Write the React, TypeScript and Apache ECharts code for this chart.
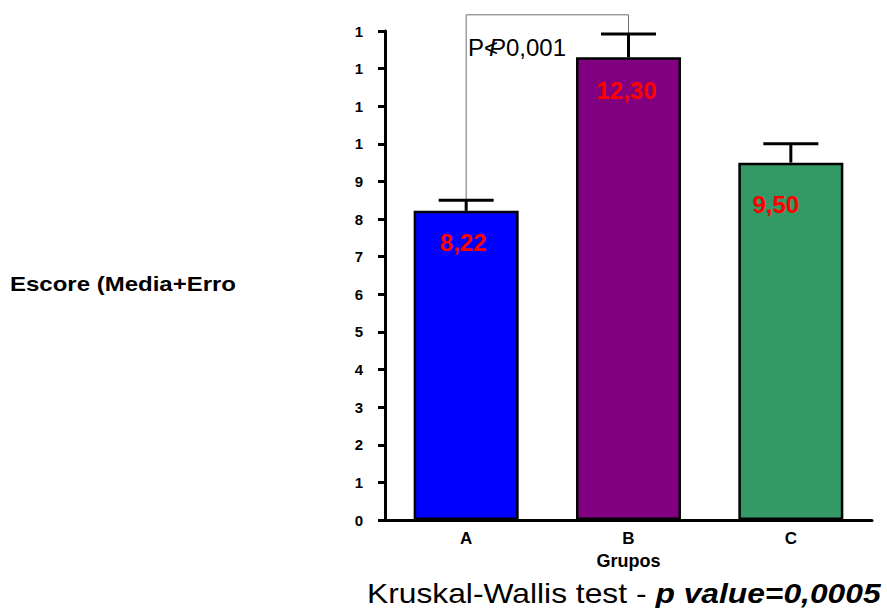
import React, { useEffect, useRef } from "react";
import * as echarts from "echarts";

const categories = ["A", "B", "C"];
const means = [8.22, 12.3, 9.5];
const errUpper = [8.5, 12.92, 10.0];
const meanLabels = ["8,22", "12,30", "9,50"];
const yTickLabels = ["0", "1", "2", "3", "4", "5", "6", "7", "8", "9", "1", "1", "1", "1"];
const barColors = ["#0000FF", "#800080", "#339966"];
const bracketFrom = 0;
const bracketTo = 1;
const bracketTop = 13.43;

const FONT = "'Liberation Sans', Arial, sans-serif";

export default function App() {
  const ref = useRef<HTMLDivElement>(null);
  useEffect(() => {
    if (!ref.current) return;
    const chart = echarts.init(ref.current, null, { renderer: "svg" });
    const labelOffsets = [[-3, 0], [-2, 1], [-15, 10]];
    const option: any = {
      animation: false,
      backgroundColor: "#ffffff",
      textStyle: { fontFamily: FONT },
      grid: { left: 385, right: 15, top: 31, bottom: 88 },
      xAxis: {
        type: "category",
        data: categories,
        name: "Grupos",
        nameLocation: "middle",
        nameGap: 32,
        nameTextStyle: { fontFamily: FONT, fontWeight: "bold", fontSize: 18, color: "#000" },
        axisLine: { lineStyle: { color: "#000", width: 3 } },
        axisTick: { show: false },
        axisLabel: { fontFamily: FONT, fontWeight: "bold", fontSize: 17, color: "#000", margin: 10 },
        splitLine: { show: false },
      },
      yAxis: {
        type: "value",
        min: 0,
        max: 13,
        interval: 1,
        axisLine: { show: true, lineStyle: { color: "#000", width: 3 } },
        axisTick: { show: true, length: 7, lineStyle: { color: "#000", width: 3 } },
        axisLabel: {
          fontFamily: FONT,
          fontWeight: "bold",
          fontSize: 15,
          color: "#000",
          margin: 22,
          formatter: (v: number) => yTickLabels[Math.round(v)] ?? "",
        },
        splitLine: { show: false },
      },
      series: [
        {
          type: "bar",
          barWidth: 105,
          data: means.map((m, i) => ({
            value: m,
            itemStyle: { color: barColors[i], borderColor: "#000", borderWidth: 2.5 },
            label: {
              show: true,
              position: ["50%", 32],
              align: "center",
              verticalAlign: "middle",
              offset: labelOffsets[i],
              formatter: meanLabels[i],
              color: "#FF0000",
              fontWeight: "bold",
              fontSize: 24,
              fontFamily: FONT,
            },
          })),
          z: 2,
        },
        {
          type: "custom",
          z: 5,
          data: categories.map((c, i) => [i, means[i], errUpper[i]]),
          renderItem: (params: any, api: any) => {
            const i = api.value(0);
            const top = api.coord([i, api.value(1)]);
            const up = api.coord([i, api.value(2)]);
            const hw = 27.5;
            return {
              type: "group",
              children: [
                { type: "line", shape: { x1: top[0], y1: top[1], x2: up[0], y2: up[1] }, style: { stroke: "#000", lineWidth: 3 } },
                { type: "line", shape: { x1: up[0] - hw, y1: up[1], x2: up[0] + hw, y2: up[1] }, style: { stroke: "#000", lineWidth: 3 } },
              ],
            };
          },
        },
        {
          type: "custom",
          z: 4,
          data: [[bracketFrom, bracketTo, bracketTop]],
          renderItem: (params: any, api: any) => {
            const a = api.value(0);
            const b = api.value(1);
            const t = api.value(2);
            const p1 = api.coord([a, errUpper[a]]);
            const p2 = api.coord([a, t]);
            const p3 = api.coord([b, t]);
            const p4 = api.coord([b, errUpper[b]]);
            return {
              type: "polyline",
              shape: { points: [p1, p2, p3, p4] },
              style: { stroke: "#6e6e6e", lineWidth: 1, fill: "none" },
            };
          },
        },
      ],
      graphic: [
        {
          type: "text",
          x: 10,
          y: 284,
          scaleX: 1.2,
          style: { text: "Escore (Media+Erro", font: `bold 20px ${FONT}`, fill: "#000", verticalAlign: "middle", align: "left" },
        },
        {
          type: "text",
          x: 468,
          y: 47,
          style: { text: "P", font: `24px ${FONT}`, fill: "#000", verticalAlign: "middle" },
        },
        {
          type: "text",
          x: 484,
          y: 47,
          style: { text: "<", font: `24px ${FONT}`, fill: "#000", verticalAlign: "middle" },
        },
        {
          type: "text",
          x: 489,
          y: 47,
          style: { text: "P", font: `italic 24px ${FONT}`, fill: "#000", verticalAlign: "middle" },
        },
        {
          type: "text",
          x: 506,
          y: 47,
          style: { text: "0,001", font: `24px ${FONT}`, fill: "#000", verticalAlign: "middle" },
        },
        {
          type: "text",
          x: 367,
          y: 593,
          scaleX: 1.135,
          style: {
            text: "{n|Kruskal-Wallis test - }{b|p value=0,0005}",
            verticalAlign: "middle",
            rich: {
              n: { font: `28px ${FONT}`, fill: "#000" },
              b: { font: `italic bold 28px ${FONT}`, fill: "#000" },
            },
          },
        },
      ],
    };
    chart.setOption(option);
    return () => chart.dispose();
  }, []);
  return <div ref={ref} style={{ width: 887, height: 608, position: "absolute", left: 0, top: 0 }} />;
}
